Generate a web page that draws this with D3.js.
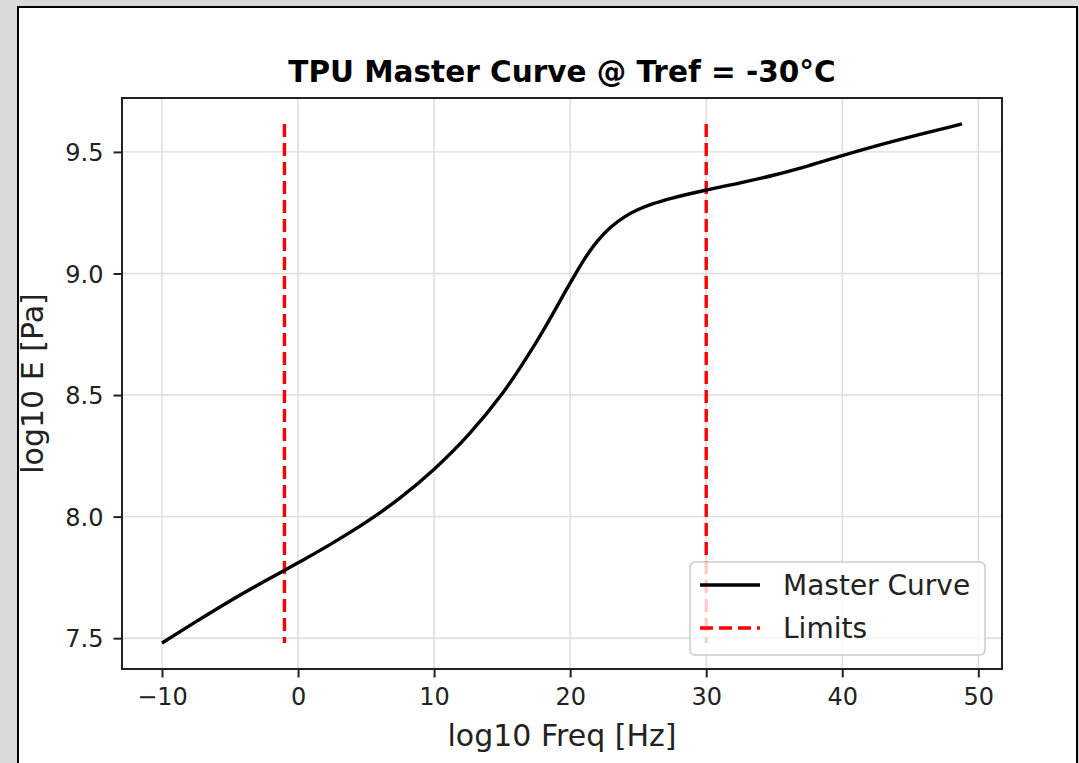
<!DOCTYPE html>
<html>
<head>
<meta charset="utf-8">
<script src="https://cdn.jsdelivr.net/npm/d3@7"></script>
<style>
  body { margin: 0; background: #d9d9d9; }
  svg { display: block; font-family: "DejaVu Sans", sans-serif; }
  .grid line { stroke: #dcdcdc; stroke-width: 1.4; }
  .axis path { display: none; }
  .axis line { stroke: #222; stroke-width: 2; }
  .axis text { fill: #222; font-size: 24px; font-family: "DejaVu Sans", sans-serif; }
</style>
</head>
<body>
<svg id="chart" width="1079" height="763"></svg>
<script>
// master curve
const freq = [-10, -7.5, -5, -2.5, 0, 2.5, 5, 7.5, 10, 12.5, 15, 17.5, 20, 21, 22, 23, 24, 25, 26, 27.5, 30, 32.5, 35, 37.5, 40, 42.5, 45, 47.5, 48.8];
const modulus = [7.48, 7.568, 7.653, 7.733, 7.81, 7.89, 7.977, 8.077, 8.195, 8.335, 8.505, 8.717, 8.96, 9.055, 9.133, 9.191, 9.233, 9.263, 9.285, 9.31, 9.343, 9.373, 9.405, 9.443, 9.485, 9.525, 9.562, 9.597, 9.615];
const limits = [-1, 30];
const xTicks = [-10, 0, 10, 20, 30, 40, 50];
const yTicks = [7.5, 8.0, 8.5, 9.0, 9.5];

const translate = function(a, b) {
  return "translate(" + a + ", " + b + ")";
};

const svg = d3.select("#chart");

// white figure panel with black frame
svg.append("rect")
  .attr("x", 18).attr("y", 7)
  .attr("width", 1059).attr("height", 780)
  .attr("fill", "white")
  .attr("stroke", "black")
  .attr("stroke-width", 2);

const plot = { left: 122, top: 98, right: 1002, bottom: 669 };

// matplotlib-like 5% margins
const pad = function(ext) {
  const d = (ext[1] - ext[0]) * 0.05;
  return [ext[0] - d, ext[1] + d];
};

const x = d3.scaleLinear().domain(pad(d3.extent(freq))).range([plot.left, plot.right]);
const y = d3.scaleLinear().domain(pad(d3.extent(modulus))).range([plot.bottom, plot.top]);

// grid
const grid = svg.append("g").attr("class", "grid");
grid.selectAll("line.gx")
  .data(xTicks)
  .enter()
  .append("line")
  .attr("x1", d => x(d)).attr("x2", d => x(d))
  .attr("y1", plot.top).attr("y2", plot.bottom);
grid.selectAll("line.gy")
  .data(yTicks)
  .enter()
  .append("line")
  .attr("x1", plot.left).attr("x2", plot.right)
  .attr("y1", d => y(d)).attr("y2", d => y(d));

// axes
const xAxis = d3.axisBottom(x).tickValues(xTicks).tickFormat(d3.format("d")).tickSize(8.5).tickPadding(10);
const yAxis = d3.axisLeft(y).tickValues(yTicks).tickFormat(d3.format(".1f")).tickSize(8.5).tickPadding(10);

svg.append("g")
  .attr("class", "axis")
  .attr("transform", translate(0, plot.bottom))
  .call(xAxis);

svg.append("g")
  .attr("class", "axis")
  .attr("transform", translate(plot.left, 0))
  .call(yAxis)
  .selectAll("text")
  .attr("dy", "0.36em");

// limits
const yExt = d3.extent(modulus);
svg.append("g")
  .selectAll("line")
  .data(limits)
  .enter()
  .append("line")
  .attr("x1", d => x(d)).attr("x2", d => x(d))
  .attr("y1", y(yExt[1])).attr("y2", y(yExt[0]))
  .attr("stroke", "red")
  .attr("stroke-width", 3.4)
  .attr("stroke-dasharray", "13,6");

// master curve
const line = d3.line()
  .x(d => x(d[0]))
  .y(d => y(d[1]))
  .curve(d3.curveCatmullRom.alpha(0.5));

svg.append("path")
  .datum(freq.map((f, i) => [f, modulus[i]]))
  .attr("d", line)
  .attr("fill", "none")
  .attr("stroke", "black")
  .attr("stroke-width", 3.4)
  .attr("stroke-linejoin", "round")
  .attr("stroke-linecap", "butt");

// frame
svg.append("rect")
  .attr("x", plot.left).attr("y", plot.top)
  .attr("width", plot.right - plot.left)
  .attr("height", plot.bottom - plot.top)
  .attr("fill", "none")
  .attr("stroke", "#222")
  .attr("stroke-width", 2);

// labels
svg.append("text")
  .attr("x", (plot.left + plot.right) / 2)
  .attr("y", 82)
  .attr("text-anchor", "middle")
  .style("font-size", "29.5px")
  .style("font-weight", "bold")
  .text("TPU Master Curve @ Tref = -30°C");

svg.append("text")
  .attr("x", (plot.left + plot.right) / 2)
  .attr("y", 746)
  .attr("text-anchor", "middle")
  .style("font-size", "30px")
  .style("fill", "#222")
  .text("log10 Freq [Hz]");

svg.append("text")
  .attr("transform", translate(43, (plot.top + plot.bottom) / 2) + " rotate(-90)")
  .attr("text-anchor", "middle")
  .style("font-size", "30px")
  .style("fill", "#222")
  .text("log10 E [Pa]");

// legend
const legend = svg.append("g").attr("transform", translate(690, 562));
legend.append("rect")
  .attr("width", 295).attr("height", 93)
  .attr("rx", 5)
  .attr("fill", "white")
  .attr("fill-opacity", 0.8)
  .attr("stroke", "#cccccc")
  .attr("stroke-width", 1.5);

const entries = [
  { label: "Master Curve", color: "black", dash: null },
  { label: "Limits", color: "red", dash: "13,6" }
];

const items = legend.selectAll("g.item")
  .data(entries)
  .enter()
  .append("g")
  .attr("class", "item")
  .attr("transform", (d, i) => translate(0, 23 + i * 43));

items.append("line")
  .attr("x1", 10).attr("x2", 70)
  .attr("stroke", d => d.color)
  .attr("stroke-width", 3.4)
  .attr("stroke-dasharray", d => d.dash);

items.append("text")
  .attr("x", 93)
  .attr("dy", "0.36em")
  .style("font-size", "28px")
  .style("fill", "#222")
  .text(d => d.label);
</script>
</body>
</html>
